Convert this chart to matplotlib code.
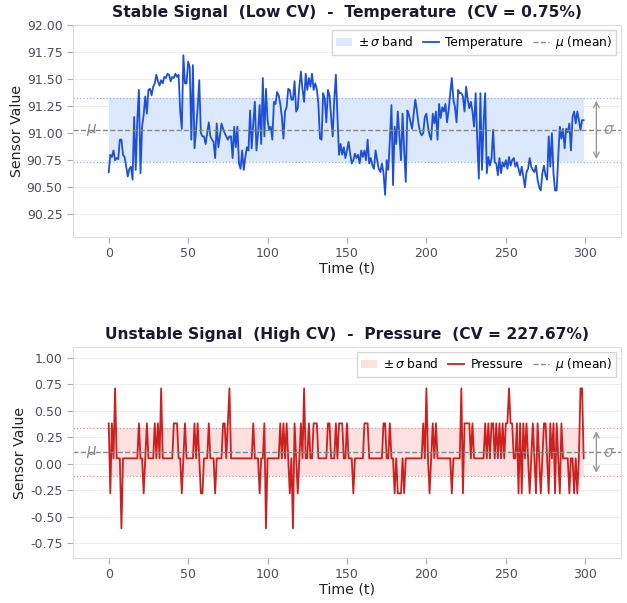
import numpy as np
import matplotlib.pyplot as plt
from matplotlib.ticker import MultipleLocator, FormatStrFormatter

# Temperature readings (t = 0..299)
temperature = [
    90.64, 90.80, 90.78, 90.84, 90.75, 90.77, 90.76, 90.94, 90.94, 90.80,
    90.78, 90.69, 90.60, 90.67, 90.69, 90.57, 91.15, 90.66, 91.12, 91.40,
    90.63, 91.06, 91.17, 91.34, 91.18, 91.40, 91.41, 91.35, 91.43, 91.46,
    91.54, 91.48, 91.44, 91.49, 91.46, 91.52, 91.51, 91.55, 91.54, 91.48,
    91.52, 91.51, 91.55, 91.52, 91.54, 91.20, 91.04, 91.72, 91.46, 91.46,
    91.66, 91.61, 90.94, 91.63, 90.86, 91.03, 91.24, 91.49, 91.00, 90.97,
    90.97, 90.90, 91.00, 91.10, 90.97, 90.94, 90.92, 90.77, 91.09, 90.87,
    90.97, 91.09, 91.04, 91.00, 90.97, 90.94, 90.97, 90.97, 90.77, 91.06,
    90.87, 91.06, 90.72, 90.67, 90.84, 90.66, 90.78, 90.87, 90.84, 91.21,
    90.86, 91.09, 91.29, 90.84, 91.00, 91.26, 90.90, 91.51, 90.97, 91.41,
    91.12, 91.03, 91.06, 90.94, 91.29, 91.27, 91.38, 91.35, 91.27, 91.15,
    90.95, 91.20, 91.24, 91.41, 91.40, 91.31, 91.31, 91.48, 91.20, 91.23,
    91.43, 91.57, 91.40, 91.29, 91.55, 91.40, 91.51, 91.43, 91.55, 91.40,
    91.46, 91.41, 91.27, 90.95, 90.94, 91.37, 91.32, 91.10, 91.40, 91.35,
    91.15, 90.97, 91.31, 91.54, 91.15, 90.80, 90.90, 90.80, 90.87, 90.77,
    90.84, 90.92, 90.81, 90.72, 90.75, 90.81, 90.77, 90.80, 90.72, 90.84,
    90.78, 90.84, 90.75, 90.94, 90.72, 90.77, 90.70, 90.67, 90.84, 90.75,
    90.67, 90.64, 90.72, 90.63, 90.43, 90.75, 90.66, 90.94, 91.26, 90.52,
    91.06, 90.90, 91.20, 90.97, 90.75, 91.18, 90.84, 90.55, 91.21, 91.17,
    91.10, 91.04, 91.18, 91.31, 91.21, 91.09, 91.01, 90.98, 91.00, 91.15,
    91.18, 91.06, 90.98, 90.94, 91.18, 91.09, 91.20, 90.94, 91.27, 91.14,
    91.24, 91.20, 91.27, 91.10, 91.21, 91.37, 91.51, 91.31, 91.24, 91.10,
    91.40, 91.37, 91.37, 91.34, 91.20, 91.43, 91.31, 91.23, 91.29, 91.20,
    91.06, 91.37, 90.94, 90.58, 91.37, 90.66, 91.09, 91.37, 90.63, 90.78,
    90.70, 90.77, 91.03, 90.73, 90.72, 90.61, 90.77, 90.63, 90.73, 90.69,
    90.75, 90.67, 90.78, 90.70, 90.75, 90.77, 90.69, 90.73, 90.67, 90.61,
    90.69, 90.60, 90.50, 90.64, 90.67, 90.77, 90.69, 90.66, 90.64, 90.70,
    90.57, 90.50, 90.47, 90.63, 90.70, 90.61, 90.57, 90.97, 90.69, 91.00,
    90.63, 90.47, 90.47, 90.78, 91.06, 90.95, 91.04, 90.86, 91.04, 91.01,
    91.09, 90.84, 91.15, 91.20, 91.09, 91.20, 91.12, 91.03, 91.12, 91.12,
]

# Pressure readings (t = 0..299), quantised levels
pressure = [
    0.38, -0.28, 0.38, 0.05, 0.71, 0.05, 0.05, 0.05, -0.61, 0.05,
    0.05, 0.05, 0.05, 0.05, 0.05, 0.05, 0.05, 0.05, 0.05, 0.38,
    0.05, 0.05, -0.28, 0.05, 0.38, 0.05, 0.05, 0.05, 0.05, 0.38,
    0.05, 0.38, 0.05, 0.71, 0.05, 0.05, 0.05, 0.05, 0.05, 0.05,
    0.05, 0.38, 0.38, 0.38, 0.05, 0.05, -0.28, 0.05, 0.38, 0.05,
    0.05, 0.05, 0.05, 0.05, 0.38, 0.05, 0.38, 0.05, -0.28, -0.28,
    0.05, 0.05, 0.05, 0.38, 0.05, 0.05, 0.05, -0.28, 0.05, 0.05,
    0.05, 0.05, 0.38, 0.38, 0.05, 0.38, 0.71, 0.05, 0.05, 0.05,
    0.05, 0.05, 0.05, 0.05, 0.05, 0.05, 0.05, 0.05, 0.05, 0.05,
    0.05, 0.38, 0.05, 0.05, 0.05, -0.28, 0.05, 0.05, 0.38, -0.61,
    0.05, 0.05, 0.05, 0.05, 0.05, 0.05, 0.05, 0.05, 0.38, 0.05,
    0.38, 0.05, 0.38, 0.05, -0.28, 0.05, -0.61, 0.38, 0.05, -0.28,
    0.05, 0.38, 0.05, 0.71, 0.05, 0.05, 0.38, 0.05, 0.05, 0.38,
    0.38, 0.38, 0.05, 0.05, 0.05, 0.05, 0.05, 0.05, 0.38, 0.38,
    0.05, 0.05, 0.05, 0.38, 0.05, 0.38, 0.38, 0.38, 0.05, 0.05,
    0.38, 0.05, 0.05, 0.05, -0.28, 0.05, 0.05, 0.05, 0.05, 0.05,
    0.05, 0.38, 0.38, 0.38, 0.05, 0.05, 0.05, 0.05, 0.05, 0.05,
    0.05, 0.05, 0.05, 0.38, 0.38, 0.05, 0.05, 0.38, 0.05, 0.05,
    -0.28, 0.05, -0.28, -0.28, -0.28, 0.05, -0.28, 0.05, 0.05, 0.05,
    0.05, 0.05, 0.05, 0.05, 0.05, 0.05, 0.05, 0.05, 0.38, 0.05,
    0.71, 0.05, -0.28, 0.05, 0.38, 0.05, 0.38, 0.05, 0.05, 0.05,
    0.05, 0.05, 0.05, 0.05, 0.05, 0.05, -0.28, 0.05, 0.05, 0.05,
    0.05, 0.05, 0.71, -0.28, 0.38, 0.38, 0.38, 0.38, 0.05, 0.38,
    0.05, 0.05, 0.05, 0.05, 0.05, 0.05, 0.05, 0.38, 0.05, 0.38,
    0.05, 0.38, 0.38, 0.05, 0.38, 0.05, 0.38, 0.05, 0.38, 0.05,
    0.38, 0.38, 0.71, 0.38, 0.38, 0.05, 0.05, 0.38, -0.28, 0.38,
    -0.28, 0.38, 0.05, 0.38, 0.05, -0.28, 0.05, 0.38, 0.05, -0.28,
    0.38, 0.05, -0.28, 0.05, 0.38, 0.38, 0.05, -0.28, 0.38, 0.05,
    0.38, -0.28, 0.38, 0.05, -0.28, 0.38, 0.05, 0.05, 0.05, 0.05,
    -0.28, 0.05, 0.05, -0.28, 0.05, -0.28, 0.05, 0.71, 0.71, 0.05,
]

titles = [
    "Stable Signal  (Low CV)  -  Temperature  (CV = 0.75%)",
    "Unstable Signal  (High CV)  -  Pressure  (CV = 227.67%)",
]
names = ["Temperature", "Pressure"]
line_colors = ["#1d4fd8", "#cc1f1f"]
band_colors = ["#dbe8fd", "#fde0e0"]
edge_colors = ["#8fb0ee", "#ee8888"]
ylims = [(90.04, 92.0), (-0.89, 1.10)]

fig = plt.figure(figsize=(6.27, 6.03), dpi=100)
ax1 = fig.add_axes([0.1164, 0.607, 0.874, 0.3515])
ax2 = fig.add_axes([0.1164, 0.0746, 0.874, 0.3499])

for ax, series, title, name, lc, bc, ec, ylim in zip(
        [ax1, ax2], [temperature, pressure], titles, names,
        line_colors, band_colors, edge_colors, ylims):
    y = np.array(series)
    t = np.arange(len(y))
    mu = y.mean()
    sd = y.std()

    ax.fill_between(t, mu - sd, mu + sd, color=bc, lw=0, label=r"$\pm\,\sigma$ band")
    ax.axhline(mu + sd, color=ec, ls=":", lw=0.9)
    ax.axhline(mu - sd, color=ec, ls=":", lw=0.9)
    ax.plot(t, y, color=lc, lw=1.3, label=name)
    ax.axhline(mu, color="#888888", ls="--", lw=1.0, label=r"$\mu$ (mean)")

    ax.text(-11, mu, r"$\mu$", color="#888888", fontsize=11, ha="center", va="center")
    ax.annotate("", xy=(307, mu + sd), xytext=(307, mu - sd),
                arrowprops=dict(arrowstyle="<->", color="#999999", lw=1.0))
    ax.text(315, mu, r"$\sigma$", color="#999999", fontsize=11, ha="center", va="center")

    ax.set_xlim(-22.5, 322.5)
    ax.set_ylim(*ylim)
    ax.yaxis.set_major_locator(MultipleLocator(0.25))
    ax.yaxis.set_major_formatter(FormatStrFormatter("%.2f"))
    ax.xaxis.set_major_locator(MultipleLocator(50))
    ax.grid(axis="y", color="#eeeeee", lw=0.8)
    ax.set_axisbelow(True)
    for s in ax.spines.values():
        s.set_color("#dddddd")
    ax.tick_params(labelcolor="#4a4f5c", labelsize=9, length=4, color="#aaaaaa")

    ax.set_title(title, fontsize=11.2, fontweight="bold", color="#1a1a2e", pad=6)
    ax.set_xlabel("Time (t)", fontsize=10.2, color="#222222", labelpad=1)
    ax.set_ylabel("Sensor Value", fontsize=10.2, color="#222222", labelpad=2)
    ax.legend(loc="upper right", ncol=3, fontsize=8.8, frameon=True,
              handlelength=1.3, columnspacing=0.8, handletextpad=0.5,
              borderpad=0.35, borderaxespad=0.4, fancybox=False,
              edgecolor="#cccccc")

fig.savefig("out.png", dpi=100)
